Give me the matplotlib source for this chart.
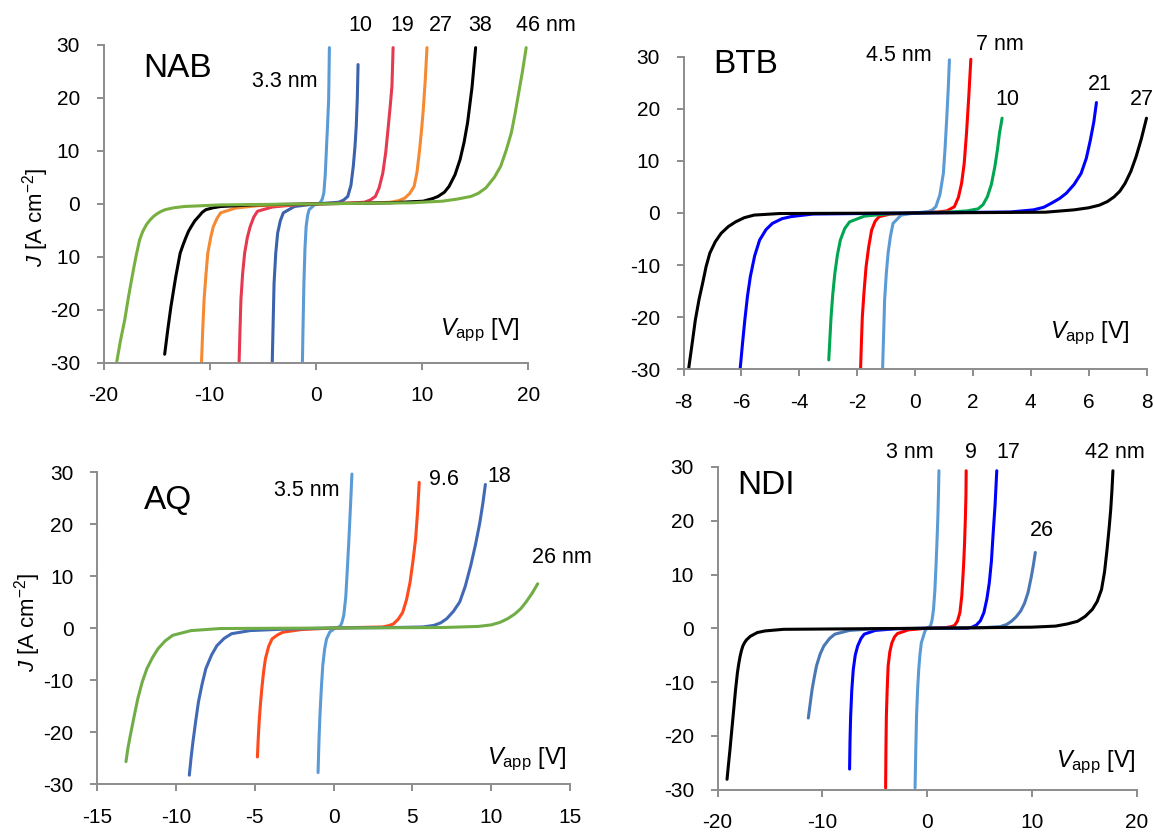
import matplotlib
matplotlib.use("Agg")
import matplotlib.pyplot as plt

plt.rcParams["font.family"] = ["Liberation Sans", "DejaVu Sans"]
plt.rcParams["mathtext.fontset"] = "custom"
plt.rcParams["mathtext.rm"] = "Liberation Sans"
plt.rcParams["mathtext.it"] = "Liberation Sans:italic"
plt.rcParams["axes.unicode_minus"] = False

# ---- NAB: J-V curves for several film thicknesses ----
nab_labels = ["3.3 nm", "10", "19", "27", "38", "46 nm"]
nab_colors = ["#5b9bd5", "#3a62ad", "#e53950", "#f58a32", "#000000", "#77b041"]
nab_v = [
    [-1.27, -1.2, -1.13, -1.03, -0.92, -0.78, -0.64, -0.12, 0.4, 0.6, 0.75, 0.88, 0.99, 1.1, 1.2, 1.24, 1.27],
    [-4.11, -4.02, -3.94, -3.78, -3.6, -3.35, -3.07, -2.03, 0, 2.13, 2.6, 3.0, 3.3, 3.52, 3.68, 3.8, 3.9, 3.97],
    [-7.23, -7.15, -7.06, -6.9, -6.71, -6.45, -6.19, -5.85, -5.5, -4.11, -2, 0, 3, 4.56, 5.1, 5.6, 5.95, 6.3, 6.58, 6.82, 7.0, 7.16, 7.27],
    [-10.77, -10.65, -10.53, -10.35, -10.18, -9.9, -9.66, -9.3, -8.97, -7.58, -5.5, 0, 5, 7.0, 7.8, 8.38, 8.85, 9.25, 9.52, 9.77, 9.95, 10.11, 10.3, 10.46],
    [-14.24, -13.95, -13.65, -13.2, -12.78, -12.5, -12.25, -12.0, -11.74, -11.4, -11.0, -10.7, -10.36, -9.7, -8.97, -6, 0, 7, 10.1, 11.0, 11.5, 12.1, 12.54, 13.1, 13.58, 13.95, 14.28, 14.7, 15.04],
    [-18.75, -18.4, -18.0, -17.65, -17.3, -16.95, -16.6, -16.3, -15.95, -15.6, -15.25, -14.9, -14.55, -14.2, -13.4, -12.4, -9, 0, 9, 11.9, 13.3, 14.6, 15.3, 16.0, 16.8, 17.4, 17.9, 18.4, 18.75, 19.1, 19.45, 19.8],
]
nab_j = [
    [-29.8, -22, -15, -8.5, -4.3, -2.2, -1.1, -0.15, 0.2, 0.9, 2.1, 5.5, 10.3, 15, 19.7, 25, 29.5],
    [-29.8, -22, -15, -9.3, -5.5, -3.2, -1.7, -0.5, 0, 0.3, 0.7, 1.4, 3.5, 7.1, 10.8, 14.7, 20, 26.3],
    [-29.8, -24, -18.1, -13.2, -9.3, -6.3, -4.3, -2.5, -1.4, -0.6, -0.2, 0, 0.15, 0.3, 0.7, 1.4, 3.0, 5.8, 9.8, 14.7, 18.5, 22.2, 29.5],
    [-29.8, -23.5, -18.1, -13.3, -9.3, -6.3, -4.3, -2.7, -1.7, -0.8, -0.35, 0, 0.15, 0.3, 0.6, 1.1, 2.0, 3.3, 6.0, 10.3, 14.0, 17.8, 23.5, 29.5],
    [-28.4, -23.8, -19.4, -13.8, -9.3, -7.7, -6.4, -5.2, -4.3, -3.2, -2.3, -1.6, -1.1, -0.75, -0.5, -0.2, 0, 0.2, 0.5, 1.0, 1.4, 2.2, 3.3, 5.5, 8.4, 11.6, 15.3, 22, 29.5],
    [-29.8, -25.8, -21.9, -17.6, -13.7, -10.0, -6.8, -5.2, -3.9, -3.0, -2.3, -1.8, -1.4, -1.1, -0.75, -0.5, -0.2, 0, 0.2, 0.5, 0.9, 1.4, 2.0, 3.0, 5.0, 7.1, 10.0, 13.4, 17.0, 21, 25.0, 29.5],
]
nab_label_xy = [(-2.9, 23.2), (4.15, 33.6), (8.13, 33.6), (11.78, 33.6), (15.49, 33.6), (21.7, 33.6)]

# ---- BTB ----
btb_labels = ["4.5 nm", "7 nm", "10", "21", "27"]
btb_colors = ["#5b9bd5", "#ff0000", "#00a650", "#0000ff", "#000000"]
btb_v = [
    [-1.12, -1.08, -1.05, -0.99, -0.93, -0.85, -0.76, -0.48, 0, 0.47, 0.6, 0.72, 0.86, 0.98, 1.04, 1.1, 1.15, 1.19],
    [-1.88, -1.85, -1.82, -1.76, -1.69, -1.6, -1.5, -1.38, -1.24, -0.86, 0, 0.8, 1.1, 1.36, 1.5, 1.61, 1.7, 1.78, 1.86, 1.93],
    [-2.98, -2.94, -2.9, -2.84, -2.77, -2.68, -2.58, -2.43, -2.26, -1.75, -1, 0, 1.2, 1.8, 2.18, 2.35, 2.5, 2.64, 2.76, 2.85, 2.92, 3.01],
    [-6.04, -5.96, -5.88, -5.79, -5.69, -5.54, -5.37, -5.15, -4.93, -4.6, -4.29, -3.53, 0, 3.3, 4.09, 4.45, 4.72, 5.0, 5.23, 5.5, 5.74, 5.92, 6.06, 6.18, 6.27],
    [-7.82, -7.7, -7.59, -7.46, -7.34, -7.22, -7.09, -6.9, -6.7, -6.45, -6.2, -5.9, -5.56, -4.67, 0, 4.5, 5.49, 6.0, 6.37, 6.65, 6.88, 7.08, 7.26, 7.46, 7.64, 7.82, 8.0],
]
btb_j = [
    [-29.8, -22.5, -16.7, -11.5, -7.7, -4.5, -2.0, -0.4, 0, 0.3, 0.6, 1.2, 3.5, 7.6, 12.5, 18.5, 24, 29.4],
    [-29.8, -24.5, -19.9, -15, -10.3, -6.5, -3.3, -1.6, -0.7, -0.2, 0, 0.2, 0.4, 1.2, 3.0, 5.7, 9.5, 15.3, 22.5, 29.5],
    [-28.2, -24, -19.9, -15.5, -11.6, -8, -5.2, -3.0, -1.7, -0.6, -0.2, 0, 0.2, 0.4, 0.8, 1.6, 3.1, 5.5, 8.9, 12.2, 15.3, 18.2],
    [-29.8, -25, -20.5, -16, -12.2, -8.2, -5.2, -3.2, -2.0, -1.1, -0.7, -0.2, 0, 0.2, 0.6, 1.1, 1.9, 2.8, 3.8, 5.5, 7.6, 10.5, 14.0, 17.5, 21.2],
    [-29.8, -25, -20.5, -16.5, -13.5, -10.3, -7.7, -5.5, -3.9, -2.6, -1.7, -0.9, -0.4, -0.1, 0, 0.15, 0.6, 1.0, 1.5, 2.2, 3.1, 4.2, 5.7, 8.0, 10.8, 14.2, 18.2],
]
btb_label_xy = [(-0.55, 30.3), (2.95, 32.4), (3.2, 21.8), (6.37, 24.6), (7.84, 21.8)]

# ---- AQ ----
aq_labels = ["3.5 nm", "9.6", "18", "26 nm"]
aq_colors = ["#5b9bd5", "#ff4a1c", "#4169b5", "#70ad47"]
aq_v = [
    [-0.99, -0.93, -0.87, -0.78, -0.69, -0.57, -0.45, -0.25, 0.05, 0.41, 0.52, 0.64, 0.77, 0.88, 0.96, 1.04, 1.1, 1.16],
    [-4.84, -4.79, -4.73, -4.65, -4.56, -4.45, -4.33, -4.12, -3.91, -3.55, -3.21, -2.04, 0, 3.1, 3.5, 3.8, 4.1, 4.38, 4.63, 4.85, 5.03, 5.2, 5.33, 5.43],
    [-9.16, -9.05, -8.93, -8.75, -8.58, -8.35, -8.11, -7.75, -7.41, -6.95, -6.48, -5.31, -3, 0, 4, 5.66, 6.36, 6.8, 7.18, 7.6, 8.0, 8.35, 8.7, 9.0, 9.28, 9.47, 9.63],
    [-13.18, -13.05, -12.9, -12.65, -12.43, -12.15, -11.85, -11.5, -11.15, -10.7, -10.21, -9.05, -7.18, 0, 7, 9.17, 10.0, 10.57, 11.05, 11.5, 11.87, 12.2, 12.6, 12.95],
]
aq_j = [
    [-27.8, -21.5, -16.8, -11.5, -7.2, -4.0, -2.1, -0.8, -0.1, 0.3, 1.0, 2.4, 6.0, 12.0, 16.5, 21.6, 25.5, 29.6],
    [-24.8, -21.5, -18.1, -14.8, -11.7, -8.5, -5.9, -3.5, -2.1, -1.3, -0.8, -0.3, 0, 0.2, 0.45, 0.8, 1.7, 3.0, 5.5, 8.8, 12.8, 17.1, 22.5, 28.0],
    [-28.3, -25, -21.9, -17.8, -14.2, -10.8, -7.8, -5.2, -3.4, -2.0, -1.1, -0.5, -0.2, 0, 0.1, 0.2, 0.5, 1.0, 1.8, 3.2, 5.0, 8.0, 12.0, 16.0, 20.3, 24.0, 27.6],
    [-25.7, -23.0, -20.6, -16.8, -13.6, -10.4, -7.8, -5.7, -4.0, -2.5, -1.4, -0.5, -0.1, 0, 0.1, 0.3, 0.6, 1.1, 1.8, 2.7, 3.7, 4.95, 6.7, 8.5],
]
aq_label_xy = [(-1.69, 26.5), (7.02, 28.6), (10.52, 29.1), (14.5, 13.6)]

# ---- NDI ----
ndi_labels = ["3 nm", "9", "17", "26", "42 nm"]
ndi_colors = ["#5b9bd5", "#ff0000", "#0000ff", "#4a78b5", "#000000"]
ndi_v = [
    [-1.14, -1.07, -1.0, -0.9, -0.79, -0.67, -0.54, -0.19, 0, 0.33, 0.48, 0.62, 0.75, 0.86, 0.96, 1.04, 1.1, 1.14],
    [-3.95, -3.92, -3.88, -3.8, -3.71, -3.55, -3.35, -3.1, -2.83, -1.77, 0, 1.74, 2.3, 2.62, 2.9, 3.14, 3.32, 3.49, 3.59, 3.67, 3.72, 3.74],
    [-7.39, -7.35, -7.29, -7.18, -7.04, -6.85, -6.62, -6.3, -5.99, -4.93, -3, 0, 3.85, 4.3, 4.72, 5.1, 5.43, 5.72, 5.95, 6.15, 6.3, 6.5, 6.66],
    [-11.33, -11.15, -10.97, -10.75, -10.55, -10.2, -9.85, -9.3, -8.8, -7.39, -5, 0, 5.25, 7.0, 7.6, 8.06, 8.5, 8.94, 9.3, 9.64, 9.95, 10.15, 10.34],
    [-19.09, -18.95, -18.81, -18.63, -18.45, -18.28, -18.1, -17.97, -17.85, -17.72, -17.58, -17.42, -17.25, -16.87, -16.2, -15.47, -13.71, 0, 10, 12.27, 13.4, 14.38, 15.1, 15.78, 16.25, 16.66, 16.95, 17.19, 17.38, 17.54, 17.66, 17.75],
]
ndi_j = [
    [-29.7, -22.5, -16.4, -11.5, -7.7, -4.8, -2.7, -0.5, 0, 0.4, 1.5, 3.5, 7.0, 11.6, 16.5, 20.9, 25.5, 29.3],
    [-29.7, -22.5, -16.4, -11.3, -7.0, -4.4, -2.7, -1.6, -1.0, -0.3, 0, 0.1, 0.3, 0.5, 1.3, 2.9, 6.0, 11.6, 16.0, 20.9, 25, 29.3],
    [-26.2, -21, -16.4, -11.5, -7.7, -5.0, -3.3, -1.9, -1.1, -0.4, -0.1, 0, 0.0, 0.2, 0.6, 1.4, 2.9, 5.5, 8.5, 12.5, 17.2, 23, 29.3],
    [-16.7, -14.0, -11.4, -9.0, -7.0, -4.8, -3.3, -1.9, -1.1, -0.4, -0.1, 0, 0.1, 0.3, 0.7, 1.3, 2.1, 3.2, 4.6, 6.6, 9.5, 11.7, 14.1],
    [-28.1, -25.3, -22.6, -18.8, -15.1, -11.5, -8.3, -6.6, -5.3, -4.2, -3.3, -2.7, -2.2, -1.5, -0.8, -0.5, -0.2, 0, 0.2, 0.4, 0.8, 1.3, 2.2, 3.5, 5.0, 7.2, 10.5, 14.7, 18.5, 22.1, 25.8, 29.3],
]
ndi_label_xy = [(-1.6, 32.7), (4.2, 32.7), (7.78, 32.7), (10.94, 18.1), (17.96, 32.7)]

AXIS_GRAY = "#8c8c8c"
W, H = 1154, 832


def make_axes(fig, left, top, right, bottom):
    # pixel box -> figure fraction
    return fig.add_axes([left / W, 1 - bottom / H, (right - left) / W, (bottom - top) / H])


def style(ax, xlim, xticks):
    ax.set_xlim(*xlim)
    ax.set_ylim(-30, 30)
    ax.set_xticks(xticks)
    ax.set_yticks([-30, -20, -10, 0, 10, 20, 30])
    for s in ["top", "right"]:
        ax.spines[s].set_visible(False)
    for s in ["left", "bottom"]:
        ax.spines[s].set_color(AXIS_GRAY)
        ax.spines[s].set_linewidth(1.4)
    ax.tick_params(direction="out", length=5, width=1.4, color=AXIS_GRAY,
                   labelsize=15, pad=12, labelcolor="black")
    ax.set_facecolor("none")


def draw_panel(ax, vs, js, colors, labels, label_xy):
    for v, j, c in zip(vs, js, colors):
        ax.plot(v, j, color=c, lw=2.2, solid_capstyle="round",
                solid_joinstyle="round", clip_on=False)
    for lab, (x, y) in zip(labels, label_xy):
        ax.text(x, y, lab, fontsize=15.5, ha="center", va="center", clip_on=False)


fig = plt.figure(figsize=(W / 100, H / 100), dpi=100)

ax1 = make_axes(fig, 103.5, 45, 528.3, 362.7)
ax2 = make_axes(fig, 683.5, 56.7, 1146.5, 369.3)
ax3 = make_axes(fig, 97.3, 472, 570, 784)
ax4 = make_axes(fig, 717.5, 467, 1136.5, 789.5)

style(ax1, (-20, 20), [-20, -10, 0, 10, 20])
style(ax2, (-8, 8), [-8, -6, -4, -2, 0, 2, 4, 6, 8])
style(ax3, (-15, 15), [-15, -10, -5, 0, 5, 10, 15])
style(ax4, (-20, 20), [-20, -10, 0, 10, 20])

draw_panel(ax1, nab_v, nab_j, nab_colors, nab_labels, nab_label_xy)
draw_panel(ax2, btb_v, btb_j, btb_colors, btb_labels, btb_label_xy)
draw_panel(ax3, aq_v, aq_j, aq_colors, aq_labels, aq_label_xy)
draw_panel(ax4, ndi_v, ndi_j, ndi_colors, ndi_labels, ndi_label_xy)

# panel names
ax1.text(0.094, 0.899, "NAB", transform=ax1.transAxes, fontsize=24, va="baseline")
ax2.text(0.064, 0.949, "BTB", transform=ax2.transAxes, fontsize=24, va="baseline")
ax3.text(0.098, 0.882, "AQ", transform=ax3.transAxes, fontsize=24, va="baseline")
ax4.text(0.047, 0.916, "NDI", transform=ax4.transAxes, fontsize=24, va="baseline")

# x-axis titles inside the plot area
vlab = r"$V_{\mathrm{app}}$ [V]"
ax1.text(0.98, 0.087, vlab, transform=ax1.transAxes, fontsize=17, ha="right", va="baseline")
ax2.text(0.964, 0.10, vlab, transform=ax2.transAxes, fontsize=17, ha="right", va="baseline")
ax3.text(0.994, 0.064, vlab, transform=ax3.transAxes, fontsize=17, ha="right", va="baseline")
ax4.text(0.999, 0.068, vlab, transform=ax4.transAxes, fontsize=17, ha="right", va="baseline")

# y-axis titles (left column only); the NAB one sits on a white box over the tick labels
jlab = r"$J$ [A cm$^{-2}$]"
ax1.text(-0.161, 0.459, jlab, transform=ax1.transAxes, fontsize=16, rotation=90,
         ha="center", va="center", zorder=5,
         bbox=dict(facecolor="white", edgecolor="none", pad=5))
ax3.text(-0.147, 0.519, jlab, transform=ax3.transAxes, fontsize=16, rotation=90,
         ha="center", va="center")

fig.savefig("out.png", dpi=100, facecolor="white")
